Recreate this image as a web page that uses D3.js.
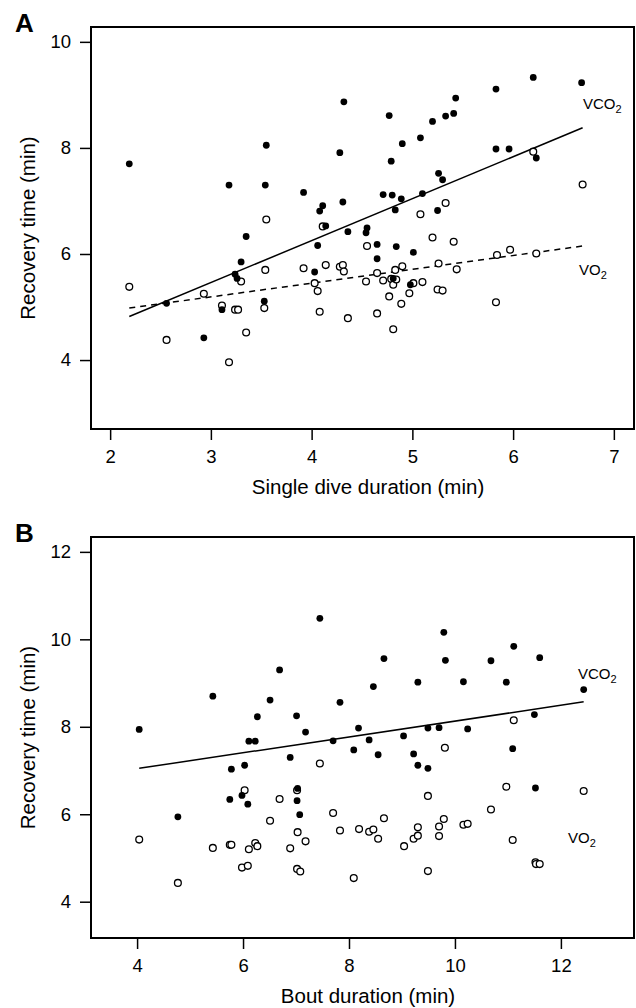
<!DOCTYPE html>
<html>
<head>
<meta charset="utf-8">
<script src="https://cdn.jsdelivr.net/npm/d3@7"></script>
<style>
  body { margin: 0; background: #fff; }
  svg { display: block; font-family: "Liberation Sans", Arial, Helvetica, sans-serif; }
</style>
</head>
<body>
<script>

// Panel A: single dive duration vs recovery time
const diveA = [2.19,3.18,3.54,3.55,3.92,4.08,4.11,4.31,4.32,4.28,4.77,4.79,4.90,5.08,5.20,5.33,5.41,5.43,5.83,6.20,6.68,5.83,5.96,6.23,4.71,4.80,4.89,5.10,5.26,5.30,4.83,5.25,2.56,2.93,3.11,3.24,3.26,3.30,3.35,3.53,4.03,4.06,4.14,4.36,4.55,4.54,4.65,4.84,5.01,4.65,4.81,4.98];
const vco2A = [7.70,7.30,7.30,8.05,7.16,6.81,6.91,6.98,8.87,7.91,8.61,7.75,8.08,8.19,8.50,8.60,8.65,8.94,9.11,9.33,9.23,7.98,7.98,7.81,7.12,7.11,7.04,7.14,7.52,7.40,6.83,6.82,5.07,4.42,4.95,5.62,5.54,5.85,6.33,5.11,5.66,6.16,6.53,6.42,6.49,6.40,6.18,6.14,6.03,5.91,5.54,5.42];

const diveA_o = [6.20,6.69,5.08,5.33,2.19,2.56,2.93,3.11,3.24,3.27,3.30,3.35,3.18,3.55,3.54,3.53,3.92,4.03,4.06,4.08,4.11,4.55,5.20,5.41,4.14,4.28,4.31,4.32,4.36,4.54,4.65,4.71,4.65,4.77,4.79,4.81,4.83,4.84,4.81,4.90,4.89,4.97,5.01,5.10,5.26,5.25,5.30,5.44,5.84,5.97,6.23,5.83];
const vo2A = [7.93,7.31,6.75,6.96,5.38,4.38,5.25,5.03,4.95,4.95,5.48,4.52,3.96,6.65,5.70,4.98,5.73,5.45,5.30,4.91,6.52,6.15,6.31,6.23,5.79,5.76,5.79,5.67,4.79,5.48,5.64,5.50,4.88,5.20,5.53,5.42,5.70,5.52,4.58,5.77,5.06,5.26,5.45,5.47,5.82,5.33,5.31,5.71,5.98,6.08,6.01,5.09];

// fitted lines (start, end)
const fitVco2A = [[2.19, 4.82], [6.69, 8.38]];
const fitVo2A  = [[2.19, 4.98], [6.69, 6.15]];

// Panel B: bout duration vs recovery time
const boutB = [4.04,5.43,6.69,6.51,6.27,7.01,7.45,9.79,11.11,8.66,9.82,10.68,11.60,8.46,9.30,10.16,10.97,7.83,12.43,11.50,6.11,6.23,7.18,6.89,5.78,6.03,5.75,5.98,6.09,7.03,7.02,7.07,4.77,8.18,7.70,8.38,9.03,9.49,9.70,10.24,8.09,8.55,9.22,9.30,9.49,11.09,11.52];
const vco2B = [7.94,8.70,9.30,8.61,8.23,8.25,10.48,10.16,9.84,9.56,9.52,9.51,9.58,8.92,9.02,9.03,9.02,8.56,8.85,8.28,7.67,7.67,7.88,7.30,7.03,7.12,6.34,6.43,6.23,6.59,6.31,5.99,5.94,7.97,7.68,7.70,7.79,7.97,7.98,7.95,7.47,7.36,7.38,7.12,7.05,7.50,6.60];

const boutB_o = [11.11,4.04,4.77,5.43,5.75,5.78,6.03,6.11,6.23,6.27,5.98,6.09,6.69,6.51,6.89,7.02,7.03,7.18,7.02,7.08,7.45,9.81,9.49,10.97,12.43,10.68,7.70,8.66,7.83,8.19,8.38,8.46,8.55,9.04,9.22,9.30,9.30,9.70,9.70,9.79,10.16,10.24,11.09,9.49,8.09,11.52,11.53,11.60];
const vo2B = [8.15,5.42,4.43,5.23,5.30,5.30,6.55,5.20,5.34,5.27,4.78,4.82,6.35,5.85,5.22,6.55,5.59,5.38,4.75,4.69,7.16,7.52,6.42,6.63,6.53,6.11,6.03,5.91,5.63,5.66,5.60,5.65,5.44,5.27,5.44,5.51,5.70,5.50,5.72,5.89,5.76,5.78,5.41,4.70,4.54,4.90,4.86,4.86];

const fitVco2B = [[4.04, 7.05], [12.43, 8.57]];

// tick values
const xTicksA = [2, 3, 4, 5, 6, 7];
const yTicksA = [4, 6, 8, 10];
const xTicksB = [4, 6, 8, 10, 12];
const yTicksB = [4, 6, 8, 10, 12];

const width = 636;
const height = 1008;
const marginLeft = 91;
const marginRight = 2;
const tickLen = 11;

const svg = d3.create("svg")
    .attr("width", width)
    .attr("height", height)
    .attr("viewBox", [0, 0, width, height]);

function drawPanel(p) {

    const x = d3.scaleLinear(p.xDomain, [marginLeft, width - marginRight]);
    const y = d3.scaleLinear(p.yDomain, [p.bottom, p.top]);

    const g = svg.append("g");

    // x axis, ticks pointing out of the box
    g.append("g")
        .attr("transform", `translate(0,${p.bottom})`)
        .attr("font-family", null)
        .attr("font-size", 18.5)
        .call(d3.axisBottom(x).tickValues(p.xTicks).tickSize(tickLen).tickPadding(10).tickFormat(d3.format("d")))
        .attr("font-family", null)
        .attr("font-size", 18.5)
        .call(a => a.select(".domain").remove())
        .call(a => a.selectAll(".tick line").attr("stroke-width", 1.5));

    // y axis
    g.append("g")
        .attr("transform", `translate(${marginLeft},0)`)
        .call(d3.axisLeft(y).tickValues(p.yTicks).tickSize(tickLen).tickPadding(9).tickFormat(d3.format("d")))
        .attr("font-family", null)
        .attr("font-size", 18.5)
        .call(a => a.select(".domain").remove())
        .call(a => a.selectAll(".tick line").attr("stroke-width", 1.5));

    // box
    g.append("rect")
        .attr("x", marginLeft)
        .attr("y", p.top)
        .attr("width", width - marginRight - marginLeft)
        .attr("height", p.bottom - p.top)
        .attr("fill", "none")
        .attr("stroke", "#000")
        .attr("stroke-width", 2);

    // axis titles
    g.append("text")
        .attr("x", 368)
        .attr("y", p.bottom + 65)
        .attr("text-anchor", "middle")
        .attr("font-size", 20.5)
        .text(p.xTitle);

    g.append("text")
        .attr("transform", `translate(35,${(p.top + p.bottom) / 2}) rotate(-90)`)
        .attr("text-anchor", "middle")
        .attr("font-size", 20.5)
        .text("Recovery time (min)");

    // panel letter
    g.append("text")
        .attr("x", 15)
        .attr("y", p.top + 5)
        .attr("font-size", 26)
        .attr("font-weight", "bold")
        .text(p.letter);

    // regression lines
    const line = d3.line().x(d => x(d[0])).y(d => y(d[1]));
    p.fits.forEach(f => {
        g.append("path")
            .attr("fill", "none")
            .attr("stroke", "#000")
            .attr("stroke-width", 1.5)
            .attr("stroke-dasharray", f.dash)
            .attr("d", line(f.pts));
    });

    // open circles (VO2)
    g.selectAll(".open")
        .data(d3.zip(p.xo, p.yo))
        .enter().append("circle")
        .attr("cx", d => x(d[0]))
        .attr("cy", d => y(d[1]))
        .attr("r", 3.4)
        .attr("fill", "#fff")
        .attr("stroke", "#000")
        .attr("stroke-width", 1.3);

    // filled circles (VCO2)
    g.selectAll(".filled")
        .data(d3.zip(p.xf, p.yf))
        .enter().append("circle")
        .attr("cx", d => x(d[0]))
        .attr("cy", d => y(d[1]))
        .attr("r", 3.4)
        .attr("fill", "#000");

    // series labels with subscripts
    p.labels.forEach(l => {
        const t = g.append("text")
            .attr("x", l.x)
            .attr("y", l.y)
            .attr("font-size", 15);
        t.append("tspan").text(l.text);
        t.append("tspan").attr("font-size", 11).attr("dy", 4).text("2");
    });
}

drawPanel({
    letter: "A",
    top: 27, bottom: 429,
    xDomain: [1.81, 7.20], yDomain: [2.70, 10.28],
    xTicks: xTicksA, yTicks: yTicksA,
    xTitle: "Single dive duration (min)",
    xf: diveA, yf: vco2A, xo: diveA_o, yo: vo2A,
    fits: [{pts: fitVco2A, dash: null}, {pts: fitVo2A, dash: "6,5"}],
    labels: [{text: "VCO", x: 583, y: 109}, {text: "VO", x: 579, y: 275}]
});

drawPanel({
    letter: "B",
    top: 537, bottom: 938,
    xDomain: [3.13, 13.38], yDomain: [3.17, 12.34],
    xTicks: xTicksB, yTicks: yTicksB,
    xTitle: "Bout duration (min)",
    xf: boutB, yf: vco2B, xo: boutB_o, yo: vo2B,
    fits: [{pts: fitVco2B, dash: null}],
    labels: [{text: "VCO", x: 578, y: 679}, {text: "VO", x: 568, y: 843}]
});

document.body.appendChild(svg.node());

</script>
</body>
</html>
